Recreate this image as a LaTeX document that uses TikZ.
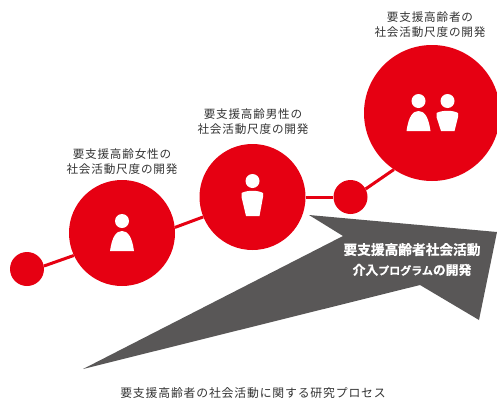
\documentclass[tikz,border=0pt]{standalone}
\usepackage{fontspec}
\newfontfamily\jpfont[LetterSpace=7]{Noto Sans CJK JP}
\newfontfamily\jpbold[BoldFont=*,FakeBold=0.6]{Noto Sans CJK JP Bold}
\usepackage{xcolor}
\usetikzlibrary{positioning}
\definecolor{stepred}{HTML}{E60012}
\definecolor{arrowgray}{HTML}{595757}
\newcommand{\katasize}{\fontsize{11}{20}\selectfont}

\tikzset{
  bigdot/.style={circle, fill=stepred, inner sep=0pt, minimum size=106pt},
  smalldot/.style={circle, fill=stepred, inner sep=0pt, minimum size=34pt},
  link/.style={draw=stepred, line width=3pt},
  caption/.style={align=center, inner sep=0pt, text=black!80, font=\fontsize{11.6}{15}\selectfont\jpfont},
  woman/.pic={
    \fill[white] (0,-12) circle (7);
    \fill[white] (-12,18) .. controls (-10,4) and (-6,-2) .. (0,-2) .. controls (6,-2) and (10,4) .. (12,18) -- cycle;
  },
  pics/man/.style={code={
    \fill[white] (0,-16) circle (7);
    \fill[white] (-11,-4) .. controls (-5,-7) and (5,-7) .. (10.5,-4) -- (10.5,0) -- (7,#1) -- (-6.5,#1) -- (-11,0) -- cycle;
  }}
}

\begin{document}
\begin{tikzpicture}[x=1pt, y=-1pt]
\clip (0,0) rectangle (497,402);

\node[smalldot] (start) at (27,269) {};
\node[bigdot] (female) at (122,233) {};
\node[bigdot] (male) at (252.5,197) {};
\node[smalldot] (turn) at (350.5,197) {};
\node[bigdot, minimum size=136pt] (both) at (432,113) {};

\draw[link] (start.10) -- (female.205);
\draw[link] (female.6) -- (male.202);
\draw[link] (male.east) -- (turn.west);
\draw[link] (turn.28) -- (both.236);

\pic at (122,233) {woman};
\pic at (252.5,197) {man=19};
\pic at (418.5,113) {woman};
\pic at (447.5,117) {man=14};

\fill[arrowgray] (309,215) -- (497,232) -- (479,320) -- (420,285) -- (83,369) -- (343,236) -- cycle;

\node[caption] (femalecap) at (122,161.5) {要支援高齢女性の\\社会活動尺度の開発};
\node[caption] (malecap) at (253,121.5) {要支援高齢男性の\\社会活動尺度の開発};
\node[caption] (bothcap) at (430,24.5) {要支援高齢者の\\社会活動尺度の開発};
\node[align=center, inner sep=0pt, text=white, font=\fontsize{13.7}{20}\selectfont\jpbold] (goal) at (412,259.5) {要支援高齢者社会活動\\\fontsize{12.8}{20}\selectfont 介入{\katasize プログラム}の開発};
\node[caption, font=\fontsize{11.85}{15}\selectfont\jpfont] (title) at (253,393.5) {要支援高齢者の社会活動に関する研究プロセス};
\end{tikzpicture}
\end{document}
